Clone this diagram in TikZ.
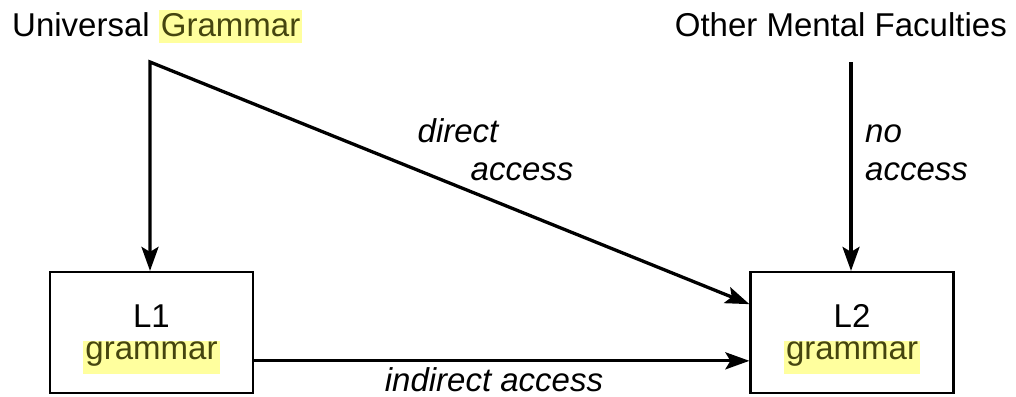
\documentclass[tikz,border=0pt]{standalone}
\usepackage{fontspec}
\setmainfont{Liberation Sans}
\usetikzlibrary{arrows.meta,calc}
\definecolor{hl}{rgb}{1,1,0.62}
\definecolor{hltext}{rgb}{0.27,0.27,0.06}
\newcommand\hlt[3]{{\setlength\fboxsep{0pt}\colorbox{hl}{\rule[-#1]{0pt}{#2}\hspace{2pt}\color{hltext}#3\hspace{2pt}}}}
\tikzset{
  lbl/.style={font=\fontsize{33}{38}\selectfont, inner sep=0pt},
  ital/.style={font=\fontsize{33}{38}\selectfont\itshape, inner sep=0pt},
  gbox/.style={draw, line width=2.2pt, minimum width=203pt, minimum height=121pt, inner sep=0pt, align=center, font=\fontsize{33}{32}\selectfont},
  tip/.tip={Stealth[length=24pt,width=17pt,inset=5pt]},
  arr/.style={line width=3.3pt, -tip},
  arr2/.style={line width=3.3pt, tip-tip, line join=miter}
}
\begin{document}
\begin{tikzpicture}[x=1pt,y=-1pt]
\useasboundingbox (0,0) rectangle (1016,396);
\node[lbl, anchor=base west] (ug) at (12,37) {Universal \hlt{6pt}{33pt}{Grammar}};
\node[lbl, anchor=base east] (omf) at (1007,37) {Other Mental Faculties};
\coordinate (ugc) at (150,62);
\coordinate (omfc) at (851,62);
\node[gbox] (L1) at (151.5,332.5) {\rule{0pt}{36pt}L1\\\hlt{15pt}{31pt}{grammar}};
\node[gbox] (L2) at (852,332.5) {\rule{0pt}{36pt}L2\\\hlt{15pt}{31pt}{grammar}};
\draw[arr2] (L1.north -| ugc) -- (ugc) -- ($(L2.north west)!0.27!(L2.south west)$);
\draw[arr] (omfc) -- (L2.north -| omfc);
\draw[arr] ($(L1.north east)!0.73!(L1.south east)$) -- ($(L2.north west)!0.73!(L2.south west)$);
\node[ital, anchor=base] (d1) at (458,142) {direct};
\node[ital, anchor=base] (d2) at (522,180) {access};
\node[ital, anchor=base west] (n1) at (865,142) {no};
\node[ital, anchor=base west] (n2) at (865,180) {access};
\node[ital, anchor=base] (ia) at (494,391) {indirect access};
\end{tikzpicture}
\end{document}
